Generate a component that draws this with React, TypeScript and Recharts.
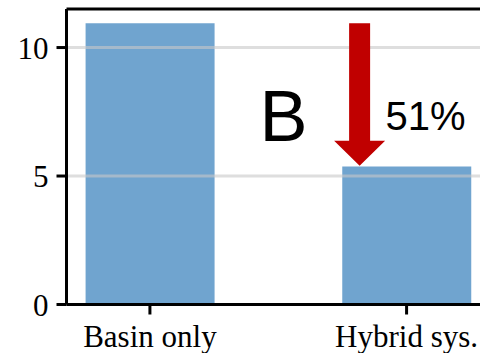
import { BarChart, Bar, XAxis, YAxis, ReferenceLine } from "recharts"

const categories = ["Basin only", "Hybrid sys."]
const values = [10.95, 5.37]
const yTicks = [0, 5, 10]
const gridValues = [5, 10]

// arrow from the first bar's height down to the second one
const arrowX = 0.817
const arrowFrom = 10.95
const arrowTo = 5.4
const reductionLabel = "51%"
const panelLabel = "B"

const data = categories.map((name, i) => ({ x: i, name, value: values[i] }))

const serif = "'Liberation Serif', 'Times New Roman', serif"
const sans = "'Liberation Sans', Arial, sans-serif"

function Arrow(props: any) {
  const { x1, y1, y2 } = props
  const shaft = 10.5
  const head = 25.5
  const headLen = 25
  const pts = [
    [x1 - shaft, y1],
    [x1 + shaft, y1],
    [x1 + shaft, y2 - headLen],
    [x1 + head, y2 - headLen],
    [x1, y2],
    [x1 - head, y2 - headLen],
    [x1 - shaft, y2 - headLen],
  ]
  return (
    <g>
      <polygon points={pts.map((p) => p.join(",")).join(" ")} fill="#c00000" />
      <text x={x1 - 76} y={y1 + 118} fontFamily={sans} fontSize={72} fill="#000" textAnchor="middle">
        {panelLabel}
      </text>
      <text x={x1 + 26} y={y1 + 107} fontFamily={sans} fontSize={40} fill="#000">
        {reductionLabel}
      </text>
    </g>
  )
}

export default function App() {
  return (
    <div style={{ position: "fixed", left: 0, top: 0, width: 480, height: 353, overflow: "hidden", background: "#fff" }}>
      <BarChart width={500} height={353} data={data} margin={{ top: 9, right: 10, left: 0, bottom: 0 }}>
        <XAxis
          dataKey="x"
          type="number"
          domain={[-0.325, 1.325]}
          ticks={[0, 1]}
          allowDataOverflow
          tickFormatter={(v: number) => categories[v]}
          height={48.5}
          axisLine={{ stroke: "#000", strokeWidth: 3 }}
          tickLine={{ stroke: "#000", strokeWidth: 3 }}
          tickSize={10}
          tickMargin={10}
          tick={{ fill: "#000", fontFamily: serif, fontSize: 31 }}
        />
        <YAxis
          type="number"
          domain={[0, 11.5]}
          ticks={yTicks}
          width={66.5}
          axisLine={{ stroke: "#000", strokeWidth: 3 }}
          tickLine={{ stroke: "#000", strokeWidth: 3 }}
          tickSize={10}
          tickMargin={8}
          tick={{ fill: "#000", fontFamily: serif, fontSize: 31 }}
        />
        <Bar dataKey="value" fill="#70a4cf" barSize={129} isAnimationActive={false} />
        {gridValues.map((g) => (
          <ReferenceLine key={g} y={g} stroke="#c8c8c8" strokeOpacity={0.6} strokeWidth={3} />
        ))}
        <ReferenceLine y={11.5} stroke="#000" strokeWidth={3} />
        <ReferenceLine
          segment={[
            { x: arrowX, y: arrowFrom },
            { x: arrowX, y: arrowTo },
          ]}
          shape={Arrow}
        />
      </BarChart>
    </div>
  )
}
